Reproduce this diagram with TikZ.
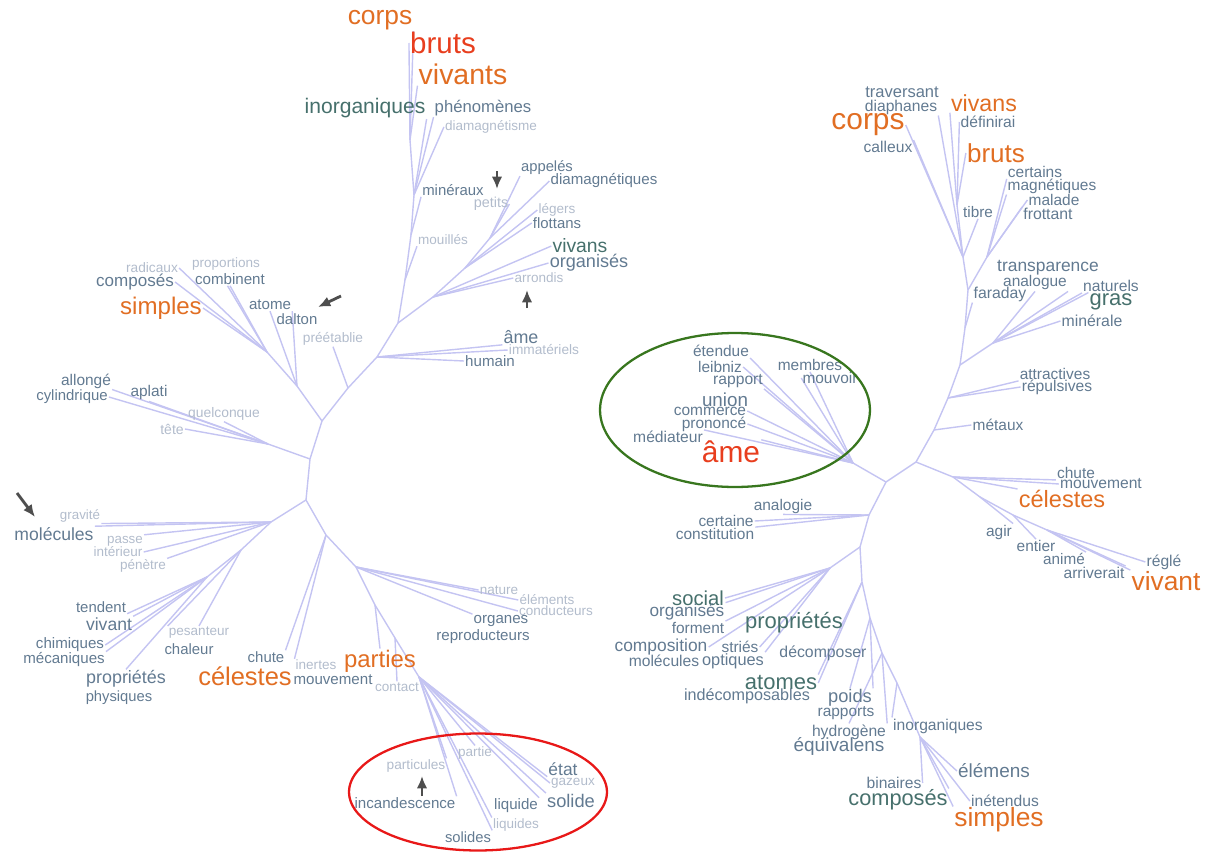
\documentclass[tikz,border=0pt]{standalone}
\usepackage{fontspec}
\setmainfont{Liberation Sans}
\usetikzlibrary{arrows.meta,backgrounds}

\definecolor{orangec}{RGB}{225,110,35}
\definecolor{redc}{RGB}{232,62,30}
\definecolor{tealc}{RGB}{70,112,108}
\definecolor{slatec}{RGB}{98,122,145}
\definecolor{lightc}{RGB}{178,188,204}
\definecolor{branchc}{RGB}{196,196,242}
\definecolor{cuec}{RGB}{78,78,78}
\definecolor{ovgreen}{RGB}{56,118,30}
\definecolor{ovred}{RGB}{232,24,24}

\tikzset{
  branch/.style={draw=branchc, line width=0.8pt},
  wtext/.style={inner sep=0.5pt, font=\fontsize{#1}{#1}\selectfont},
  orw/.style={wtext=#1, text=orangec},
  rdw/.style={wtext=#1, text=redc},
  tlw/.style={wtext=#1, text=tealc},
  slw/.style={wtext=#1, text=slatec},
  ltw/.style={wtext=#1, text=lightc},
  cue/.style={draw=cuec, line width=1.6pt, -{Latex[length=7pt,width=6pt]}},
  oval/.style={line width=1.3pt}
}

\begin{document}
\begin{tikzpicture}[x=0.02cm, y=-0.02cm]
  \useasboundingbox (0,0) rectangle (1205,852);

  % Left tree - upper trunk words
  \node[orw=15] (lcorps) at (380,20) {corps};
  \node[rdw=16.8] (lbruts) at (443,43) {bruts};
  \node[orw=16.2] (lvivants) at (463,74) {vivants};
  \node[tlw=12] (linorg) at (365,108) {inorganiques};
  \node[slw=9.5] (lphenom) at (483,108) {phénomènes};
  \node[ltw=7.7] (ldiamag) at (491,127) {diamagnétisme};
  \node[slw=8.5] (lmineraux) at (453,190) {minéraux};
  \node[ltw=8.2] (lpetits) at (491,204) {petits};
  \node[slw=8.4] (lappeles) at (547,168) {appelés};
  \node[slw=8.6] (ldiamagq) at (604,181) {diamagnétiques};
  \node[ltw=7.7] (llegers) at (557,210) {légers};
  \node[slw=8.5] (lflottans) at (557,223) {flottans};
  \node[ltw=7.7] (lmouilles) at (443,240) {mouillés};
  \node[tlw=11] (lvivans) at (580,246) {vivans};
  \node[slw=10.3] (lorganises) at (589,263) {organisés};
  \node[ltw=7.7] (larrondis) at (539,278) {arrondis};
  \node[slw=10.2] (lame) at (521,337) {âme};
  \node[ltw=7.8] (limmat) at (544,350) {immatériels};
  \node[slw=8.6] (lhumain) at (490,361) {humain};
  \node[ltw=7.8] (lpreet) at (333,339) {préétablie};

  % Left tree - upper left words
  \node[slw=8.6] (latome) at (270,305) {atome};
  \node[slw=8.5] (ldalton) at (297,319) {dalton};
  \node[ltw=7.8] (lradicaux) at (152,268) {radicaux};
  \node[ltw=7.7] (lproport) at (226,264) {proportions};
  \node[slw=9.7] (lcomposes) at (135,282) {composés};
  \node[slw=8.6] (lcombinent) at (230,279) {combinent};
  \node[orw=13.7] (lsimples) at (161,308) {simples};
  \node[slw=8.8] (lallonge) at (86,381) {allongé};
  \node[slw=8.5] (lcylind) at (72,397) {cylindrique};
  \node[slw=8.8] (laplati) at (149,393) {aplati};
  \node[ltw=7.9] (lquelc) at (224,414) {quelconque};
  \node[ltw=8] (ltete) at (172,429) {tête};

  % Left tree - lower left words
  \node[ltw=7.6] (lgravite) at (80,516) {gravité};
  \node[slw=10] (lmolecules) at (54,534) {molécules};
  \node[ltw=7.6] (lpasse) at (125,541) {passe};
  \node[ltw=7.7] (linterieur) at (118,552) {intérieur};
  \node[ltw=7.7] (lpenetre) at (143,566) {pénètre};
  \node[slw=8.5] (ltendent) at (101,607) {tendent};
  \node[slw=10] (lvivant) at (109,624) {vivant};
  \node[slw=8.6] (lchimiques) at (70,645) {chimiques};
  \node[slw=8.6] (lmecaniques) at (64,660) {mécaniques};
  \node[slw=10.2] (lproprietes) at (126,679) {propriétés};
  \node[slw=8.4] (lphysiques) at (119,698) {physiques};
  \node[ltw=7.7] (lpesanteur) at (199,633) {pesanteur};
  \node[slw=8.5] (lchaleur) at (189,649) {chaleur};

  % Left tree - lower right words
  \node[slw=8.5] (lchute) at (266,657) {chute};
  \node[orw=14.5] (lcelestes) at (245,676) {célestes};
  \node[ltw=7.7] (linertes) at (316,665) {inertes};
  \node[slw=8.6] (lmouvement) at (333,680) {mouvement};
  \node[orw=13.6] (lparties) at (380,661) {parties};
  \node[ltw=7.7] (lcontact) at (397,687) {contact};
  \node[ltw=7.7] (lnature) at (499,590) {nature};
  \node[ltw=7.7] (lelements) at (547,600) {éléments};
  \node[ltw=7.7] (lconduct) at (556,611) {conducteurs};
  \node[slw=8.6] (lorganes) at (501,621) {organes};
  \node[slw=8.6] (lreprod) at (483,637) {reproducteurs};
  \node[ltw=7.7] (lpartie) at (475,753) {partie};
  \node[ltw=7.8] (lparticules) at (416,766) {particules};
  \node[slw=9.9] (letat) at (563,769) {état};
  \node[ltw=7.7] (lgazeux) at (573,783) {gazeux};
  \node[slw=8.6] (lincand) at (405,803) {incandescence};
  \node[slw=8.6] (lliquide) at (516,806) {liquide};
  \node[slw=10.4] (lsolide) at (571,801) {solide};
  \node[ltw=7.7] (lliquides) at (516,825) {liquides};
  \node[slw=8.4] (lsolides) at (468,837) {solides};

  % Right tree - upper words
  \node[slw=9.4] (rtraversant) at (902,92) {traversant};
  \node[slw=8.9] (rdiaphanes) at (901,107) {diaphanes};
  \node[orw=13.2] (rvivans) at (984,103) {vivans};
  \node[orw=17] (rcorps) at (868,125) {corps};
  \node[slw=8.9] (rdefinirai) at (988,122) {définirai};
  \node[slw=8.9] (rcalleux) at (888,147) {calleux};
  \node[orw=14.8] (rbruts) at (996,153) {bruts};
  \node[slw=8.8] (rcertains) at (1035,172) {certains};
  \node[slw=8.8] (rmagnet) at (1052,186) {magnétiques};
  \node[slw=8.8] (rmalade) at (1054,200) {malade};
  \node[slw=9] (rfrottant) at (1048,214) {frottant};
  \node[slw=8.7] (rtibre) at (978,212) {tibre};
  \node[slw=9.9] (rtranspar) at (1048,268) {transparence};
  \node[slw=8.8] (ranalogue) at (1035,283) {analogue};
  \node[slw=9] (rfaraday) at (1000,294) {faraday};
  \node[slw=8.9] (rnaturels) at (1111,286) {naturels};
  \node[tlw=12.5] (rgras) at (1111,302) {gras};
  \node[slw=9] (rminerale) at (1092,321) {minérale};
  \node[slw=8.8] (rattract) at (1055,374) {attractives};
  \node[slw=8.9] (rrepuls) at (1057,387) {répulsives};
  \node[slw=8.8] (rmetaux) at (998,425) {métaux};

  % Right tree - right words
  \node[slw=8.8] (rchute) at (1076,473) {chute};
  \node[slw=8.9] (rmouvement) at (1101,484) {mouvement};
  \node[orw=13.4] (rcelestes) at (1062,499) {célestes};
  \node[slw=8.8] (ragir) at (999,532) {agir};
  \node[slw=8.8] (rentier) at (1036,546) {entier};
  \node[slw=8.7] (ranime) at (1064,559) {animé};
  \node[slw=8.9] (rarriv) at (1094,573) {arriverait};
  \node[slw=8.9] (rregle) at (1164,562) {réglé};
  \node[orw=15] (rvivant) at (1166,581) {vivant};

  % Right tree - words inside the green oval
  \node[slw=8.8] (retendue) at (721,351) {étendue};
  \node[slw=8.8] (rleibniz) at (720,367) {leibniz};
  \node[slw=8.9] (rrapport) at (738,381) {rapport};
  \node[slw=8.8] (rmembres) at (810,365) {membres};
  \node[slw=8.8] (rmouvoir) at (830,378) {mouvoir};
  \node[slw=10.7] (runion) at (725,400) {union};
  \node[slw=8.8] (rcommerce) at (710,411) {commerce};
  \node[slw=8.8] (rprononce) at (714,424) {prononcé};
  \node[slw=8.9] (rmediateur) at (668,437) {médiateur};
  \node[rdw=17] (rame) at (731,452) {âme};

  % Right tree - lower words
  \node[slw=8.8] (ranalogie) at (783,506) {analogie};
  \node[slw=8.8] (rcertaine) at (726,521) {certaine};
  \node[slw=8.8] (rconstit) at (715,534) {constitution};
  \node[tlw=11.5] (rsocial) at (698,598) {social};
  \node[slw=9.8] (rorganises) at (687,612) {organisés};
  \node[slw=8.8] (rforment) at (698,628) {forment};
  \node[tlw=12.5] (rproprietes) at (794,623) {propriétés};
  \node[slw=9.9] (rcomposition) at (661,647) {composition};
  \node[slw=8.8] (rstries) at (740,647) {striés};
  \node[slw=8.9] (rmolecules) at (664,661) {molécules};
  \node[slw=9.3] (roptiques) at (733,661) {optiques};
  \node[slw=9] (rdecomposer) at (823,653) {décomposer};
  \node[tlw=12.5] (ratomes) at (781,683) {atomes};
  \node[slw=9.2] (rindecomp) at (747,696) {indécomposables};
  \node[slw=10.4] (rpoids) at (850,698) {poids};
  \node[slw=8.8] (rrapports) at (846,713) {rapports};
  \node[slw=8.9] (rhydrogene) at (849,732) {hydrogène};
  \node[slw=10.8] (requivalens) at (839,746) {équivalens};
  \node[slw=8.9] (rinorg) at (938,726) {inorganiques};
  \node[slw=10.8] (relemens) at (994,771) {élémens};
  \node[slw=8.9] (rbinaires) at (894,783) {binaires};
  \node[tlw=12.4] (rcomposes) at (898,800) {composés};
  \node[slw=8.9] (rinetendus) at (1005,801) {inétendus};
  \node[orw=15] (rsimples) at (999,820) {simples};

  % Branch points of the left tree
  \coordinate (la) at (306,500);
  \coordinate (lb) at (310,459);
  \coordinate (lc) at (322,421);
  \coordinate (ld) at (348,388);
  \coordinate (le) at (377,357);
  \coordinate (lf) at (398,323);
  \coordinate (lg) at (433,297);
  \coordinate (lh) at (465,268);
  \coordinate (lw) at (490,238);
  \coordinate (li) at (405,280);
  \coordinate (lj) at (411,235);
  \coordinate (lk) at (414,195);
  \coordinate (lx) at (410,140);
  \coordinate (ll) at (297,386);
  \coordinate (lm) at (267,352);
  \coordinate (ln) at (268,444);
  \coordinate (lo) at (271,522);
  \coordinate (lp) at (241,550);
  \coordinate (lq) at (207,577);
  \coordinate (lr) at (326,535);
  \coordinate (ls) at (356,567);
  \coordinate (lt) at (375,605);
  \coordinate (lu) at (395,638);
  \coordinate (lv) at (419,677);

  % Branch points of the right tree
  \coordinate (ra) at (886,482);
  \coordinate (rb) at (916,462);
  \coordinate (rc) at (934,430);
  \coordinate (rd) at (948,398);
  \coordinate (re) at (960,365);
  \coordinate (rf) at (993,343);
  \coordinate (rg) at (965,328);
  \coordinate (rh) at (968,290);
  \coordinate (ri) at (987,257);
  \coordinate (rj) at (963,257);
  \coordinate (rk) at (957,205);
  \coordinate (rl) at (953,477);
  \coordinate (rm) at (980,497);
  \coordinate (rn) at (1013,515);
  \coordinate (ro) at (1047,530);
  \coordinate (rp) at (853,463);
  \coordinate (rq) at (869,515);
  \coordinate (rr) at (860,547);
  \coordinate (rs) at (830,568);
  \coordinate (ru) at (862,582);
  \coordinate (rv) at (870,618);
  \coordinate (rw) at (882,653);
  \coordinate (rx) at (897,683);
  \coordinate (ry) at (920,737);

  \begin{scope}[on background layer]
    % Left tree - trunk and upper arm
    \draw[branch] (la) -- (lb) -- (lc) -- (ld) -- (le) -- (lf) -- (li) -- (lj) -- (lk) -- (lx);
    \draw[branch] (lx) -- (lcorps.south east);
    \draw[branch] (lx) -- (lbruts.west);
    \draw[branch] (lx) -- (lvivants.south west);
    \draw[branch] (lk) -- (linorg.south east);
    \draw[branch] (lk) -- (lphenom.south west);
    \draw[branch] (lk) -- (ldiamag.west);
    \draw[branch] (lj) -- (lmineraux.south west);
    \draw[branch] (li) -- (lmouilles.south west);
    \draw[branch] (lf) -- (lg) -- (lh) -- (lw);
    \draw[branch] (lw) -- (lappeles.south west);
    \draw[branch] (lw) -- (ldiamagq.west);
    \draw[branch] (lw) -- (lpetits.east);
    \draw[branch] (lh) -- (llegers.west);
    \draw[branch] (lh) -- (lflottans.west);
    \draw[branch] (lg) -- (lvivans.west);
    \draw[branch] (lg) -- (lorganises.west);
    \draw[branch] (lg) -- (larrondis.west);
    \draw[branch] (le) -- (lame.south west);
    \draw[branch] (le) -- (limmat.west);
    \draw[branch] (le) -- (lhumain.west);
    \draw[branch] (ld) -- (lpreet.south);

    % Left tree - upper left arm
    \draw[branch] (lc) -- (ll) -- (lm);
    \draw[branch] (ll) -- (latome.south);
    \draw[branch] (ll) -- (latome.south east);
    \draw[branch] (lm) -- (lradicaux.east);
    \draw[branch] (lm) -- (lcomposes.east);
    \draw[branch] (lm) -- (lsimples.east);
    \draw[branch] (lm) -- (lcombinent.south);
    \draw[branch] (lm) -- (lcombinent.250);
    \draw[branch] (lb) -- (ln);
    \draw[branch] (ln) -- (lallonge.south east);
    \draw[branch] (ln) -- (lcylind.east);
    \draw[branch] (ln) -- (laplati.south);
    \draw[branch] (ln) -- (lquelc.south);
    \draw[branch] (ln) -- (ltete.east);

    % Left tree - lower left arm
    \draw[branch] (la) -- (lo);
    \draw[branch] (lo) -- (lgravite.south east);
    \draw[branch] (lo) -- (lmolecules.north east);
    \draw[branch] (lo) -- (lpasse.north east);
    \draw[branch] (lo) -- (linterieur.east);
    \draw[branch] (lo) -- (lpenetre.north east);
    \draw[branch] (lo) -- (lp);
    \draw[branch] (lp) -- (lpesanteur.north);
    \draw[branch] (lp) -- (lpesanteur.north west);
    \draw[branch] (lp) -- (lq);
    \draw[branch] (lq) -- (ltendent.south east);
    \draw[branch] (lq) -- (lvivant.north east);
    \draw[branch] (lq) -- (lchimiques.east);
    \draw[branch] (lq) -- (lmecaniques.north east);
    \draw[branch] (lq) -- (lproprietes.north);

    % Left tree - lower right arm
    \draw[branch] (la) -- (lr) -- (ls) -- (lt) -- (lu) -- (lv);
    \draw[branch] (lr) -- (lchute.north east);
    \draw[branch] (lr) -- (linertes.north west);
    \draw[branch] (ls) -- (lnature.west);
    \draw[branch] (ls) -- (lelements.west);
    \draw[branch] (ls) -- (lconduct.west);
    \draw[branch] (ls) -- (lorganes.north west);
    \draw[branch] (lt) -- (lparties.north);
    \draw[branch] (lu) -- (lcontact.north);
    \draw[branch] (lv) -- (lpartie.north);
    \draw[branch] (lv) -- (lparticules.north east);
    \draw[branch] (lv) -- (lincand.north east);
    \draw[branch] (lv) -- (lsolides.north east);
    \draw[branch] (lv) -- (lliquides.north west);
    \draw[branch] (lv) -- (lliquide.north east);
    \draw[branch] (lv) -- (letat.south west);
    \draw[branch] (lv) -- (lgazeux.west);
    \draw[branch] (lv) -- (lsolide.north west);

    % Right tree - trunk and upper arm
    \draw[branch] (ra) -- (rb) -- (rc) -- (rd) -- (re) -- (rg) -- (rh) -- (rj) -- (rk);
    \draw[branch] (rc) -- (rmetaux.west);
    \draw[branch] (rd) -- (rattract.south west);
    \draw[branch] (rd) -- (rrepuls.west);
    \draw[branch] (re) -- (rf);
    \draw[branch] (rf) -- (rnaturels.south west);
    \draw[branch] (rf) -- (rgras.north west);
    \draw[branch] (rf) -- (rminerale.west);
    \draw[branch] (rf) -- (ranalogue.south);
    \draw[branch] (rf) -- (ranalogue.south east);
    \draw[branch] (rg) -- (rfaraday.south west);
    \draw[branch] (rh) -- (ri);
    \draw[branch] (ri) -- (rcertains.south west);
    \draw[branch] (ri) -- (rmagnet.south west);
    \draw[branch] (ri) -- (rmalade.west);
    \draw[branch] (ri) -- (rfrottant.north west);
    \draw[branch] (rj) -- (rtibre.south);
    \draw[branch] (rk) -- (rbruts.west);
    \draw[branch] (rk) -- (rdefinirai.west);
    \draw[branch] (rk) -- (rvivans.south west);
    \draw[branch] (rj) -- (rcorps.east);
    \draw[branch] (rj) -- (rcalleux.north east);
    \draw[branch] (rj) -- (rdiaphanes.south east);

    % Right tree - right arm
    \draw[branch] (rb) -- (rl) -- (rm) -- (rn) -- (ro);
    \draw[branch] (rl) -- (rchute.south west);
    \draw[branch] (rl) -- (rmouvement.west);
    \draw[branch] (rl) -- (rcelestes.north west);
    \draw[branch] (rm) -- (ragir.north east);
    \draw[branch] (rn) -- (rentier.north);
    \draw[branch] (ro) -- (ranime.north east);
    \draw[branch] (ro) -- (rarriv.north east);
    \draw[branch] (ro) -- (rregle.west);
    \draw[branch] (ro) -- (rvivant.north west);

    % Right tree - oval arm
    \draw[branch] (ra) -- (rp);
    \draw[branch] (rp) -- (retendue.south east);
    \draw[branch] (rp) -- (rleibniz.east);
    \draw[branch] (rp) -- (rrapport.south east);
    \draw[branch] (rp) -- (rmembres.south);
    \draw[branch] (rp) -- (rmouvoir.west);
    \draw[branch] (rp) -- (rcommerce.east);
    \draw[branch] (rp) -- (rprononce.east);
    \draw[branch] (rp) -- (rmediateur.north east);
    \draw[branch] (rp) -- (rame.north east);

    % Right tree - lower arm
    \draw[branch] (ra) -- (rq) -- (rr) -- (ru) -- (rv) -- (rw) -- (rx) -- (ry);
    \draw[branch] (rq) -- (ranalogie.south);
    \draw[branch] (rq) -- (rcertaine.east);
    \draw[branch] (rq) -- (rconstit.north east);
    \draw[branch] (rr) -- (rs);
    \draw[branch] (rs) -- (rsocial.east);
    \draw[branch] (rs) -- (rorganises.north east);
    \draw[branch] (rs) -- (rforment.north east);
    \draw[branch] (rs) -- (rcomposition.east);
    \draw[branch] (rs) -- (rstries.east);
    \draw[branch] (rs) -- (roptiques.north east);
    \draw[branch] (ru) -- (ratomes.east);
    \draw[branch] (ru) -- (ratomes.north east);
    \draw[branch] (rv) -- (rpoids.north);
    \draw[branch] (rv) -- (rpoids.north east);
    \draw[branch] (rw) -- (rhydrogene.north east);
    \draw[branch] (rw) -- (rhydrogene.north);
    \draw[branch] (rx) -- (rinorg.north west);
    \draw[branch] (ry) -- (rbinaires.east);
    \draw[branch] (ry) -- (rcomposes.north east);
    \draw[branch] (ry) -- (relemens.west);
    \draw[branch] (ry) -- (rinetendus.west);
    \draw[branch] (ry) -- (rsimples.north west);
  \end{scope}

  % Ovals
  \draw[oval, draw=ovgreen] (735,410) ellipse [x radius=2.7cm, y radius=1.54cm];
  \draw[oval, draw=ovred] (478,792) ellipse [x radius=2.58cm, y radius=1.17cm];

  % Pointer arrows
  \coordinate (cue1a) at (497,171);
  \coordinate (cue1b) at (497,189);
  \coordinate (cue2a) at (527,308);
  \coordinate (cue2b) at (527,290);
  \coordinate (cue3a) at (341,296);
  \coordinate (cue3b) at (318,307);
  \coordinate (cue4a) at (17,493);
  \coordinate (cue4b) at (35,517);
  \coordinate (cue5a) at (422,796);
  \coordinate (cue5b) at (422,776);
  \draw[cue] (cue1a) -- (cue1b);
  \draw[cue] (cue2a) -- (cue2b);
  \draw[cue] (cue3a) -- (cue3b);
  \draw[cue] (cue4a) -- (cue4b);
  \draw[cue] (cue5a) -- (cue5b);
\end{tikzpicture}
\end{document}
